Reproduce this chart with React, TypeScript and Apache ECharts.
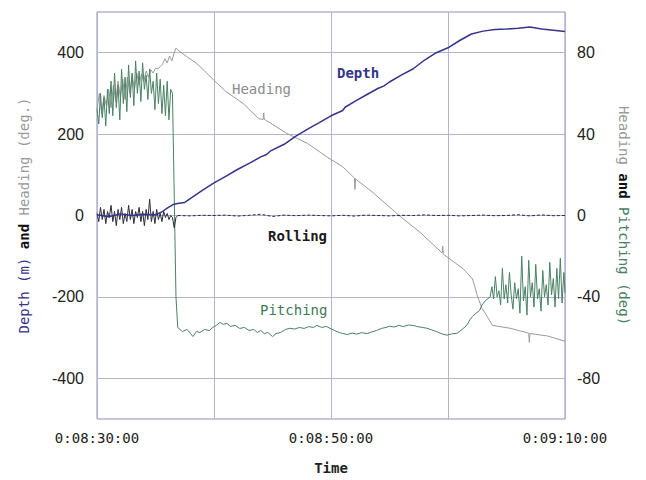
import React, { useEffect, useRef } from "react";
import * as echarts from "echarts";

// ---- data (time in seconds after 0:00:00; 510 = 0:08:30) ----
const xTickSeconds = [510, 530, 550];
const leftTicks = [-400, -200, 0, 200, 400];
const rightTicks = [-80, -40, 0, 40, 80];

const depthTime = [510, 511, 512, 513, 514, 515, 515.5, 516, 516.5, 517, 517.5, 518, 519, 520, 521, 522, 523, 524, 524.5, 524.8, 526, 527, 528, 529, 530, 531, 531.2, 532, 533, 534, 534.5, 535, 536, 537, 538, 539, 540, 541, 542, 543, 544, 545, 546, 547, 548, 549, 550];
const depthValues = [2, -3, 4, 0, 3, 2, 8, 18, 27, 30, 32, 42, 62, 80, 96, 113, 128, 144, 150, 158, 175, 195, 212, 228, 245, 258, 266, 280, 296, 312, 318, 328, 345, 360, 382, 400, 412, 430, 446, 453, 457, 458, 460, 463, 458, 455, 452];

const headingTime = [510.0, 510.2, 510.4, 510.6, 510.8, 511.0, 511.2, 511.4, 511.6, 511.8, 512.0, 512.2, 512.4, 512.6, 512.8, 513.0, 513.2, 513.4, 513.6, 513.8, 514.0, 514.2, 514.4, 514.6, 514.8, 515.0, 515.2, 515.4, 515.6, 515.8, 516.0, 516.2, 516.4, 516.6, 516.75, 517.2, 517.8, 518.5, 519.2, 519.9, 521, 522.5, 523.8, 524.2, 524.25, 524.3, 524.5, 526.2, 528.0, 529.7, 531.0, 532.0, 532.05, 532.1, 533.6, 535.9, 537.6, 539.5, 539.55, 539.6, 541.3, 542.1, 542.5, 542.9, 543.2, 543.8, 545.3, 546.9, 546.95, 547.0, 548.5, 550];
const headingValues = [260, 300, 250, 295, 270, 310, 265, 320, 280, 330, 290, 335, 285, 340, 300, 345, 310, 350, 320, 348, 330, 355, 340, 358, 350, 362, 360, 366, 372, 385, 375, 392, 380, 400, 411, 400, 388, 374, 355, 335, 305, 275, 238, 236, 252, 236, 233, 202, 177, 143, 120, 92, 64, 90, 56, -2, -41, -92, -75, -95, -131, -156, -196, -228, -241, -270, -277, -289, -312, -290, -296, -309];

const pitchingTime = [510.00, 510.15, 510.30, 510.45, 510.60, 510.75, 510.90, 511.05, 511.20, 511.35, 511.50, 511.65, 511.80, 511.95, 512.10, 512.25, 512.40, 512.55, 512.70, 512.85, 513.00, 513.15, 513.30, 513.45, 513.60, 513.75, 513.90, 514.05, 514.20, 514.35, 514.50, 514.65, 514.80, 514.95, 515.10, 515.25, 515.40, 515.55, 515.70, 515.85, 516.00, 516.15, 516.30, 516.45, 516.60, 516.75,
  516.9, 517.3, 517.7, 518.0, 518.2, 518.5, 518.8, 519.2, 519.6, 519.9, 520.2, 520.5, 520.8, 521.1, 521.4, 521.8, 522.2, 522.6, 523.0, 523.4, 523.7, 524.0, 524.3, 524.6, 525.0, 525.3, 525.7, 526.1, 526.5, 526.9, 527.3, 527.7, 528.1, 528.5, 528.8, 529.2, 529.6, 529.9, 530.3, 530.7, 531.0, 531.4, 531.8, 532.2, 532.6, 533.1, 533.5, 533.9, 534.3, 534.7, 535.0, 535.4, 535.8, 536.2, 536.6, 537.0, 537.4, 537.8, 538.2, 538.6, 539.0, 539.4, 539.9, 540.3, 540.8, 541.2, 541.6, 541.9, 542.1, 542.4, 542.7, 542.9, 543.2,
  543.60, 543.75, 543.90, 544.05, 544.20, 544.35, 544.50, 544.65, 544.80, 544.95, 545.10, 545.25, 545.40, 545.55, 545.70, 545.85, 546.00, 546.15, 546.30, 546.45, 546.60, 546.75, 546.90, 547.05, 547.20, 547.35, 547.50, 547.65, 547.80, 547.95, 548.10, 548.25, 548.40, 548.55, 548.70, 548.85, 549.00, 549.15, 549.30, 549.45, 549.60, 549.75, 549.90, 550.00];
const pitchingValues = [52, 45, 60, 48, 58, 44, 62, 50, 66, 49, 70, 53, 64, 47, 72, 55, 68, 51, 74, 58, 70, 54, 76, 60, 71, 56, 75, 62, 69, 57, 72, 60, 66, 52, 70, 55, 67, 50, 64, 49, 66, 47, 62, 60, 10, -40,
  -55, -57, -56, -58, -59.5, -57, -57.5, -56, -56.5, -55, -54, -52.5, -53.5, -53, -54.5, -54, -55.5, -55, -56.5, -56, -57.5, -56.5, -58, -57.5, -59.5, -58, -57.5, -56, -55.4, -55.8, -55, -55.5, -54.6, -55, -54, -55, -54.5, -55.4, -56.5, -57.5, -58, -58.5, -57.8, -58.3, -57.6, -58, -57.2, -56.5, -55.5, -55, -54.4, -54.8, -54, -54.6, -53.8, -54, -54.6, -55, -55.4, -56.2, -57, -58, -58.8, -58.2, -57.8, -56, -54, -51, -49.6, -48, -46.7, -44, -41.8,
  -40, -35, -41, -30, -40, -37, -44, -26, -41, -34, -43, -28, -39, -46, -33, -41, -36, -48, -20, -42, -35, -49, -22, -40, -33, -45, -24, -41, -36, -47, -27, -40, -34, -44, -23, -39, -31, -45, -26, -41, -21, -43, -28, -38];

const rollingEarlyTime = [510.00, 510.15, 510.30, 510.45, 510.60, 510.75, 510.90, 511.05, 511.20, 511.35, 511.50, 511.65, 511.80, 511.95, 512.10, 512.25, 512.40, 512.55, 512.70, 512.85, 513.00, 513.15, 513.30, 513.45, 513.60, 513.75, 513.90, 514.05, 514.20, 514.35, 514.50, 514.65, 514.80, 514.95, 515.10, 515.25, 515.40, 515.55, 515.70, 515.85, 516.00, 516.15, 516.30, 516.45, 516.60, 516.75, 516.90];
const rollingEarlyValues = [1, -3, 4, -2, 3, -4, 2, -1, 5, -3, 2, -5, 3, -2, 4, -4, 1, -3, 5, -2, 3, -4, 2, -1, 4, -3, 2, -5, 3, -2, 8, -3, 2, -4, 3, -2, 1, -3, 2, -1, 1, -2, 0, -1, -6, -1, 0];
const rollingLateTime = [516.9, 518, 519, 520, 521, 522, 523, 524, 525, 526, 527, 528, 529, 530, 531, 532, 533, 534, 535, 536, 537, 538, 539, 540, 541, 542, 543, 544, 545, 546, 547, 548, 549, 550];
const rollingLateValues = [0, -0.2, 0.1, 0, 0.2, -0.3, 0.1, 0.6, -0.5, 0.2, -0.1, 0.2, 0, -0.2, 0.1, -0.3, 0.2, 0, -0.2, 0.1, 0, 0.3, 0, 0.1, -0.2, 0, 0.2, -0.1, 0, 0.4, -0.2, 0.3, -0.1, 0];

const zip = (t: number[], v: number[]) => t.map((x, i) => [x, v[i]]);
const pad = (n: number) => (n < 10 ? "0" + n : "" + n);

const MONO = "'DejaVu Sans Mono', monospace";
const NUM = "'Liberation Sans Narrow', 'Liberation Sans', Arial, sans-serif";
const NAVY = "#34348a";
const GRAY = "#9a9a9a";
const GREEN = "#4a8164";
const DARK = "#2a2a3a";
const GRID = "#b3b3d6";

export default function App() {
  const ref = useRef<HTMLDivElement>(null);
  useEffect(() => {
    if (!ref.current) return;
    const chart = echarts.init(ref.current, null, { renderer: "svg" });
    chart.setOption({
      animation: false,
      backgroundColor: "#ffffff",
      grid: { left: 97, top: 12, width: 468, height: 409, show: true, borderColor: "#8c8cb8", borderWidth: 1, backgroundColor: "transparent" },
      xAxis: {
        type: "value",
        min: 510,
        max: 550,
        interval: 10,
        axisLine: { show: false },
        axisTick: { show: false },
        splitLine: { show: true, lineStyle: { color: GRID, width: 1 } },
        axisLabel: {
          margin: 12,
          color: "#222",
          fontFamily: MONO,
          fontSize: 14,
          formatter: (v: number) => {
            if (!xTickSeconds.includes(v)) return "";
            return `0:${pad(Math.floor(v / 60))}:${pad(v % 60)}:00`;
          },
        },
        name: "Time",
        nameLocation: "middle",
        nameGap: 42,
        nameTextStyle: { fontFamily: MONO, fontSize: 14, fontWeight: "bold", color: "#222" },
      },
      yAxis: [
        {
          type: "value",
          min: -500,
          max: 500,
          interval: 100,
          axisLine: { show: false },
          axisTick: { show: false, customValues: leftTicks },
          splitLine: { show: true, lineStyle: { color: GRID, width: 1 } },
          axisLabel: { customValues: leftTicks, margin: 13, color: "#222", fontFamily: NUM, fontSize: 16 },
          name: "{d|Depth (m)} {a|and} {h|Heading (deg.)}",
          nameLocation: "middle",
          nameRotate: 90,
          nameGap: 66,
          nameTextStyle: {
            fontFamily: MONO,
            fontSize: 14,
            rich: {
              d: { color: NAVY, fontFamily: MONO, fontSize: 14 },
              a: { color: "#111", fontFamily: MONO, fontSize: 14, fontWeight: "bold" },
              h: { color: GRAY, fontFamily: MONO, fontSize: 14 },
            },
          },
        },
        {
          type: "value",
          min: -100,
          max: 100,
          interval: 20,
          position: "right",
          axisLine: { show: false },
          axisTick: { show: false, customValues: rightTicks },
          splitLine: { show: false },
          axisLabel: { customValues: rightTicks, margin: 12, color: "#222", fontFamily: NUM, fontSize: 16 },
          name: "{h|Heading} {a|and} {p|Pitching (deg)}",
          nameLocation: "middle",
          nameRotate: -90,
          nameGap: 52,
          nameTextStyle: {
            fontFamily: MONO,
            fontSize: 14,
            rich: {
              h: { color: GRAY, fontFamily: MONO, fontSize: 14 },
              a: { color: "#111", fontFamily: MONO, fontSize: 14, fontWeight: "bold" },
              p: { color: GREEN, fontFamily: MONO, fontSize: 14 },
            },
          },
        },
      ],
      series: [
        {
          name: "Heading",
          type: "line",
          yAxisIndex: 0,
          showSymbol: false,
          data: zip(headingTime, headingValues),
          lineStyle: { color: GRAY, width: 1 },
          itemStyle: { color: GRAY },
        },
        {
          name: "Pitching",
          type: "line",
          yAxisIndex: 1,
          showSymbol: false,
          data: zip(pitchingTime, pitchingValues),
          lineStyle: { color: GREEN, width: 1 },
          itemStyle: { color: GREEN },
        },
        {
          name: "Rolling",
          type: "line",
          yAxisIndex: 1,
          showSymbol: false,
          data: zip(rollingEarlyTime, rollingEarlyValues),
          lineStyle: { color: DARK, width: 1 },
          itemStyle: { color: DARK },
        },
        {
          name: "Rolling",
          type: "line",
          yAxisIndex: 1,
          showSymbol: false,
          data: zip(rollingLateTime, rollingLateValues),
          lineStyle: { color: DARK, width: 1, type: [3, 2] },
          itemStyle: { color: DARK },
        },
        {
          name: "Depth",
          type: "line",
          yAxisIndex: 0,
          showSymbol: false,
          data: zip(depthTime, depthValues),
          lineStyle: { color: NAVY, width: 1.5 },
          itemStyle: { color: NAVY },
        },
      ],
      graphic: [
        { type: "text", left: 232, top: 82, style: { text: "Heading", fill: "#8c8c8c", font: `14px ${MONO}` } },
        { type: "text", left: 337, top: 66, style: { text: "Depth", fill: NAVY, font: `bold 14px ${MONO}` } },
        { type: "text", left: 268, top: 229, style: { text: "Rolling", fill: "#1a1a1a", font: `bold 14px ${MONO}` } },
        { type: "text", left: 260, top: 303, style: { text: "Pitching", fill: "#3e7a5a", font: `14px ${MONO}` } },
      ],
    });
    return () => chart.dispose();
  }, []);
  return <div ref={ref} style={{ position: "fixed", left: 0, top: 0, width: 646, height: 480, background: "#fff" }} />;
}
